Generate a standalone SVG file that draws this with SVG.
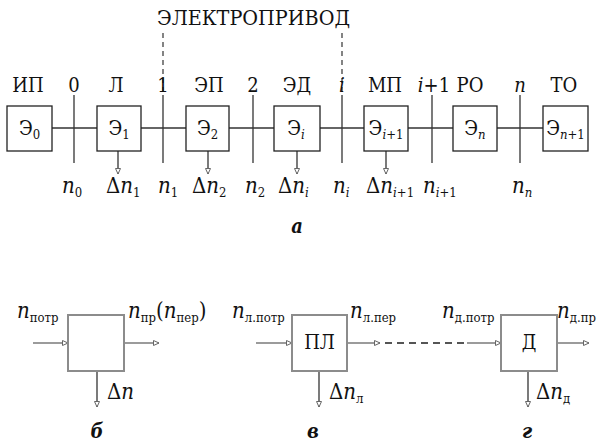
<svg xmlns="http://www.w3.org/2000/svg" width="597" height="445" viewBox="0 0 597 445">
<style>
text{font-family:"DejaVu Serif Condensed","DejaVu Serif",serif;font-stretch:condensed;fill:#111}
.t{font-size:20px}
.b{font-size:20px}
.s{font-size:13px}
.n{font-size:22px;font-style:italic}
.ss{font-size:13px}
.si{font-size:13px;font-style:italic}
.lab{font-size:20px;font-style:italic;font-weight:bold}
.box{fill:#fff;stroke:#222;stroke-width:1.3}
.gbox{fill:#fff;stroke:#8c8c8c;stroke-width:2}
.ln{stroke:#333;stroke-width:1.3;fill:none}
.gl{stroke:#7a7a7a;stroke-width:1.5;fill:none}
.dash{stroke:#333;stroke-width:1.2;stroke-dasharray:5,4;fill:none}
.gdash{stroke:#555;stroke-width:1.8;stroke-dasharray:7,5;fill:none}
</style>
<defs>
<marker id="ah" markerWidth="8" markerHeight="8" refX="6" refY="3" orient="auto" markerUnits="userSpaceOnUse">
<path d="M0.5,0.5 L6,3 L0.5,5.5 Z" fill="#fff" stroke="#666" stroke-width="1"/>
</marker>
</defs>
<text class="t" x="157" y="25" textLength="193" lengthAdjust="spacingAndGlyphs">ЭЛЕКТРОПРИВОД</text>
<g id="connectors">
<line class="ln" x1="52" y1="128" x2="97" y2="128"/>
<line class="ln" x1="141" y1="128" x2="186" y2="128"/>
<line class="ln" x1="229" y1="128" x2="274" y2="128"/>
<line class="ln" x1="320" y1="128" x2="364" y2="128"/>
<line class="ln" x1="408" y1="128" x2="453" y2="128"/>
<line class="ln" x1="497" y1="128" x2="543" y2="128"/>
<line class="ln" x1="74" y1="95" x2="74" y2="163"/>
<line class="ln" x1="163" y1="95" x2="163" y2="163"/>
<line class="ln" x1="253" y1="95" x2="253" y2="163"/>
<line class="ln" x1="342" y1="95" x2="342" y2="163"/>
<line class="ln" x1="432" y1="95" x2="432" y2="163"/>
<line class="ln" x1="520" y1="95" x2="520" y2="163"/>
<line class="dash" x1="163" y1="33" x2="163" y2="95"/>
<line class="dash" x1="342" y1="33" x2="342" y2="95"/>
<line class="ln" x1="118" y1="151" x2="118" y2="174" marker-end="url(#ah)"/>
<line class="ln" x1="208" y1="151" x2="208" y2="174" marker-end="url(#ah)"/>
<line class="ln" x1="297" y1="151" x2="297" y2="174" marker-end="url(#ah)"/>
<line class="ln" x1="386" y1="151" x2="386" y2="174" marker-end="url(#ah)"/>
<line class="gl" x1="33" y1="343" x2="68" y2="343" marker-end="url(#ah)"/>
<line class="gl" x1="124" y1="343" x2="159" y2="343" marker-end="url(#ah)"/>
<line class="ln" x1="97" y1="371" x2="97" y2="407" marker-end="url(#ah)"/>
<line class="gl" x1="256" y1="343" x2="292" y2="343" marker-end="url(#ah)"/>
<line class="gl" x1="347" y1="343" x2="380" y2="343" marker-end="url(#ah)"/>
<line class="gdash" x1="385" y1="343" x2="467" y2="343"/>
<line class="gl" x1="467" y1="343" x2="501" y2="343" marker-end="url(#ah)"/>
<line class="gl" x1="557" y1="343" x2="589" y2="343" marker-end="url(#ah)"/>
<line class="ln" x1="319" y1="371" x2="319" y2="407" marker-end="url(#ah)"/>
<line class="ln" x1="528" y1="371" x2="528" y2="407" marker-end="url(#ah)"/>
</g>
<g id="labels-top">
<text class="t" x="28" y="92" text-anchor="middle">ИП</text>
<text class="t" x="74" y="92" text-anchor="middle">0</text>
<text class="t" x="116" y="92" text-anchor="middle">Л</text>
<text class="t" x="163" y="92" text-anchor="middle">1</text>
<text class="t" x="209" y="92" text-anchor="middle">ЭП</text>
<text class="t" x="253" y="92" text-anchor="middle">2</text>
<text class="t" x="297" y="92" text-anchor="middle">ЭД</text>
<text class="t" x="342" y="92" text-anchor="middle" font-style="italic">i</text>
<text class="t" x="385" y="92" text-anchor="middle">МП</text>
<text class="t" x="434" y="92" text-anchor="middle"><tspan font-style="italic">i</tspan>+1</text>
<text class="t" x="470" y="92" text-anchor="middle">РО</text>
<text class="t" x="520" y="92" text-anchor="middle" font-style="italic">n</text>
<text class="t" x="564" y="92" text-anchor="middle">ТО</text>
</g>
<g id="e0"><rect class="box" x="7" y="106" width="45" height="45"/><text class="b" x="29.5" y="135" text-anchor="middle">Э<tspan class="s" dy="4">0</tspan></text></g>
<g id="e1"><rect class="box" x="97" y="106" width="44" height="45"/><text class="b" x="119" y="135" text-anchor="middle">Э<tspan class="s" dy="4">1</tspan></text></g>
<g id="e2"><rect class="box" x="186" y="106" width="43" height="45"/><text class="b" x="207.5" y="135" text-anchor="middle">Э<tspan class="s" dy="4">2</tspan></text></g>
<g id="ei"><rect class="box" x="274" y="106" width="46" height="45"/><text class="b" x="296" y="135" text-anchor="middle">Э<tspan class="s" dy="4" font-style="italic">i</tspan></text></g>
<g id="ei1"><rect class="box" x="364" y="106" width="44" height="45"/><text class="b" x="386" y="135" text-anchor="middle">Э<tspan class="s" dy="4"><tspan font-style="italic">i</tspan>+1</tspan></text></g>
<g id="en"><rect class="box" x="453" y="106" width="44" height="45"/><text class="b" x="475" y="135" text-anchor="middle">Э<tspan class="s" dy="4" font-style="italic">n</tspan></text></g>
<g id="en1"><rect class="box" x="543" y="106" width="45" height="45"/><text class="b" x="565.5" y="135" text-anchor="middle">Э<tspan class="s" dy="4"><tspan font-style="italic">n</tspan>+1</tspan></text></g>
<g id="labels-bottom">
<text class="n" x="62" y="193">n<tspan class="ss" dy="4" font-style="normal">0</tspan></text>
<text class="n" x="106" y="193"><tspan font-style="normal">Δ</tspan>n<tspan class="ss" dy="4" font-style="normal">1</tspan></text>
<text class="n" x="158" y="193">n<tspan class="ss" dy="4" font-style="normal">1</tspan></text>
<text class="n" x="192" y="193"><tspan font-style="normal">Δ</tspan>n<tspan class="ss" dy="4" font-style="normal">2</tspan></text>
<text class="n" x="245" y="193">n<tspan class="ss" dy="4" font-style="normal">2</tspan></text>
<text class="n" x="278" y="193"><tspan font-style="normal">Δ</tspan>n<tspan class="si" dy="4">i</tspan></text>
<text class="n" x="333" y="193">n<tspan class="si" dy="4">i</tspan></text>
<text class="n" x="366" y="193"><tspan font-style="normal">Δ</tspan>n<tspan class="si" dy="4">i<tspan font-style="normal">+1</tspan></tspan></text>
<text class="n" x="423" y="193">n<tspan class="si" dy="4">i<tspan font-style="normal">+1</tspan></tspan></text>
<text class="n" x="512" y="193">n<tspan class="si" dy="4">n</tspan></text>
<text class="lab" x="297" y="233" text-anchor="middle">а</text>
</g>
<g id="b-block">
<rect class="gbox" x="68" y="315" width="56" height="56"/>
<text class="n" x="17" y="318">n<tspan class="ss" dy="4" font-style="normal">потр</tspan></text>
<text class="n" x="128" y="318">n<tspan class="ss" dy="4" font-style="normal">пр</tspan><tspan dy="-4" font-style="normal">(</tspan>n<tspan class="ss" dy="4" font-style="normal">пер</tspan><tspan dy="-4" font-style="normal">)</tspan></text>
<text class="n" x="107" y="399"><tspan font-style="normal">Δ</tspan>n</text>
<text class="lab" x="97" y="438" text-anchor="middle">б</text>
</g>
<g id="pl-block">
<rect class="gbox" x="292" y="315" width="55" height="56"/>
<text class="b" x="319.5" y="349" text-anchor="middle">ПЛ</text>
<text class="n" x="232" y="318">n<tspan class="ss" dy="4" font-style="normal">л.потр</tspan></text>
<text class="n" x="350" y="318">n<tspan class="ss" dy="4" font-style="normal">л.пер</tspan></text>
<text class="n" x="329" y="399"><tspan font-style="normal">Δ</tspan>n<tspan class="ss" dy="4" font-style="normal">л</tspan></text>
<text class="lab" x="313" y="438" text-anchor="middle">в</text>
</g>
<g id="d-block">
<rect class="gbox" x="501" y="315" width="56" height="56"/>
<text class="b" x="529" y="349" text-anchor="middle">Д</text>
<text class="n" x="442" y="318">n<tspan class="ss" dy="4" font-style="normal">д.потр</tspan></text>
<text class="n" x="557" y="318">n<tspan class="ss" dy="4" font-style="normal">д.пр</tspan></text>
<text class="n" x="536" y="399"><tspan font-style="normal">Δ</tspan>n<tspan class="ss" dy="4" font-style="normal">д</tspan></text>
<text class="lab" x="527" y="438" text-anchor="middle">г</text>
</g>
</svg>
